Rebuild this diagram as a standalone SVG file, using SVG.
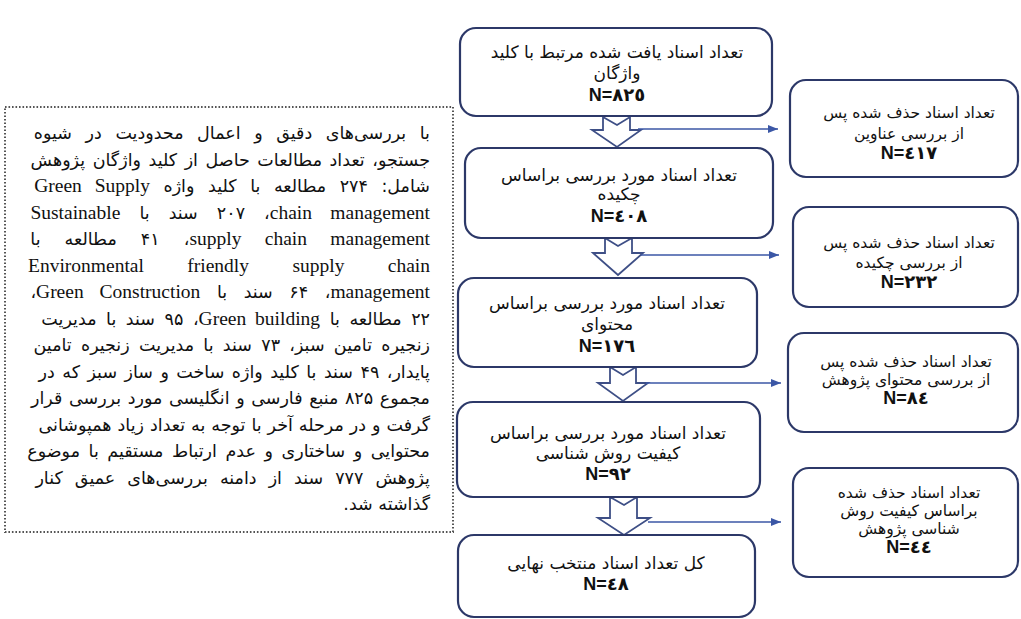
<svg xmlns="http://www.w3.org/2000/svg" width="1021" height="619" viewBox="0 0 1021 619">
<defs>
<marker id="ah" markerWidth="10" markerHeight="8" refX="10" refY="4" orient="auto" markerUnits="userSpaceOnUse">
<path d="M0,0 L10,4 L0,8 Z" fill="#3b57a6"/>
</marker>
</defs>
<style>
.box{fill:#fff;stroke:#2c3868;stroke-width:2.2}
.dot{fill:#fff;stroke:#555;stroke-width:2;stroke-dasharray:1.6 1.9}
.blk{fill:#fff;stroke:#3e4f86;stroke-width:1.8;stroke-linejoin:miter}
.hl{fill:none;stroke:#3b57a6;stroke-width:1.6}
.fa{font-family:"DejaVu Sans",sans-serif;fill:#111}
.c{font-size:17px}
.r{font-size:15.5px}
.p{font-size:17.5px}
.lt{font-family:"Liberation Serif",serif;font-size:19.5px}
.n{font-family:"Liberation Sans","DejaVu Sans",sans-serif;font-weight:bold;fill:#111;font-size:18px}
</style>
<rect width="1021" height="619" fill="#fff"/>

<g id="notes">
<rect class="dot" x="5" y="107" width="448" height="425"/>
<g class="fa p" direction="rtl" text-anchor="start">
<text x="430" y="139" word-spacing="8">با بررسی‌های دقیق و اعمال محدودیت در شیوه</text>
<text x="430" y="165.5" word-spacing="2">جستجو، تعداد مطالعات حاصل از کلید واژگان پژوهش</text>
<text x="430" y="192" word-spacing="8">شامل: ۲۷۴ مطالعه با کلید واژه <tspan class="lt">Green Supply</tspan></text>
<text x="430" y="218.5" word-spacing="13.5"><tspan class="lt">chain management</tspan>&#x200F;، ۲۰۷ سند با <tspan class="lt">Sustainable</tspan></text>
<text x="430" y="245" word-spacing="18.5"><tspan class="lt">supply chain management</tspan>&#x200F;، ۴۱ مطالعه با</text>
<text x="430" y="271.5"><tspan class="lt" word-spacing="38.5">Environmental friendly supply chain</tspan></text>
<text x="430" y="298" word-spacing="11"><tspan class="lt">management</tspan>&#x200F;، ۶۴ سند با <tspan class="lt">Green Construction</tspan>&#x200F;،</text>
<text x="430" y="324.5" word-spacing="4">۲۲ مطالعه با <tspan class="lt">Green building</tspan>&#x200F;، ۹۵ سند با مدیریت</text>
<text x="430" y="351" word-spacing="3.7">زنجیره تامین سبز، ۷۳ سند با مدیریت زنجیره تامین</text>
<text x="430" y="377.5" word-spacing="1.9">پایدار، ۴۹ سند با کلید واژه ساخت و ساز سبز که در</text>
<text x="430" y="404" word-spacing="1">مجموع ۸۲۵ منبع فارسی و انگلیسی مورد بررسی قرار</text>
<text x="430" y="430.5" word-spacing="0.4">گرفت و در مرحله آخر با توجه به تعداد زیاد همپوشانی</text>
<text x="430" y="457" word-spacing="3">محتوایی و ساختاری و عدم ارتباط مستقیم با موضوع</text>
<text x="430" y="483.5" word-spacing="6.5">پژوهش ۷۷۷ سند از دامنه بررسی‌های عمیق کنار</text>
<text x="430" y="510">گذاشته شد.</text>
</g>
</g>

<g id="connectors">
<path class="blk" d="M603,117 L617,125 L630,117 L630,130 L641,130 L617,147 L592,130 L603,130 Z"/>
<path class="blk" d="M605,238 L618,246 L632,238 L632,253 L643,253 L618,275 L593,253 L605,253 Z"/>
<path class="blk" d="M610,367 L623,375 L636,367 L636,383 L648,383 L623,401 L598,383 L610,383 Z"/>
<path class="blk" d="M610,497 L624,505 L637,497 L637,518 L650,518 L624,535 L598,518 L610,518 Z"/>
<line class="hl" x1="638" y1="129" x2="778" y2="129" marker-end="url(#ah)"/>
<line class="hl" x1="641" y1="255" x2="779" y2="255" marker-end="url(#ah)"/>
<line class="hl" x1="646" y1="383" x2="781" y2="383" marker-end="url(#ah)"/>
<line class="hl" x1="648" y1="522" x2="781" y2="522" marker-end="url(#ah)"/>
</g>

<g id="b1">
<rect class="box" x="460" y="28" width="312" height="88" rx="16"/>
<text class="fa c" x="617" y="58" direction="rtl" text-anchor="middle">تعداد اسناد یافت شده مرتبط با کلید</text>
<text class="fa c" x="617" y="79" direction="rtl" text-anchor="middle">واژگان</text>
<text class="n" x="617" y="101" text-anchor="middle">N=٨٢٥</text>
</g>
<g id="b2">
<rect class="box" x="465" y="148" width="308" height="90" rx="16"/>
<text class="fa c" x="619" y="181" direction="rtl" text-anchor="middle">تعداد اسناد مورد بررسی براساس</text>
<text class="fa c" x="619" y="200" direction="rtl" text-anchor="middle">چکیده</text>
<text class="n" x="619" y="222" text-anchor="middle">N=٤٠٨</text>
</g>
<g id="b3">
<rect class="box" x="458" y="278" width="299" height="89" rx="16"/>
<text class="fa c" x="607" y="309" direction="rtl" text-anchor="middle">تعداد اسناد مورد بررسی براساس</text>
<text class="fa c" x="607" y="330" direction="rtl" text-anchor="middle">محتوای</text>
<text class="n" x="607" y="352" text-anchor="middle">N=١٧٦</text>
</g>
<g id="b4">
<rect class="box" x="457" y="402" width="303" height="95" rx="16"/>
<text class="fa c" x="608" y="439" direction="rtl" text-anchor="middle">تعداد اسناد مورد بررسی براساس</text>
<text class="fa c" x="608" y="459" direction="rtl" text-anchor="middle">کیفیت روش شناسی</text>
<text class="n" x="608" y="480" text-anchor="middle">N=٩٢</text>
</g>
<g id="b5">
<rect class="box" x="458" y="535" width="297" height="82" rx="16"/>
<text class="fa c" x="606" y="569" direction="rtl" text-anchor="middle">کل تعداد اسناد منتخب نهایی</text>
<text class="n" x="606" y="590" text-anchor="middle">N=٤٨</text>
</g>

<g id="r1">
<rect class="box" x="790" y="80" width="228" height="97" rx="16"/>
<text class="fa r" x="909" y="118" direction="rtl" text-anchor="middle">تعداد اسناد حذف شده پس</text>
<text class="fa r" x="909" y="139" direction="rtl" text-anchor="middle">از بررسی عناوین</text>
<text class="n" x="909" y="159" text-anchor="middle">N=٤١٧</text>
</g>
<g id="r2">
<rect class="box" x="793" y="207" width="225" height="100" rx="16"/>
<text class="fa r" x="909" y="248" direction="rtl" text-anchor="middle">تعداد اسناد حذف شده پس</text>
<text class="fa r" x="909" y="268" direction="rtl" text-anchor="middle">از بررسی چکیده</text>
<text class="n" x="909" y="288" text-anchor="middle">N=٢٣٢</text>
</g>
<g id="r3">
<rect class="box" x="788" y="333" width="230" height="99" rx="16"/>
<text class="fa r" x="906" y="367" direction="rtl" text-anchor="middle">تعداد اسناد حذف شده پس</text>
<text class="fa r" x="906" y="385" direction="rtl" text-anchor="middle">از بررسی محتوای پژوهش</text>
<text class="n" x="906" y="404" text-anchor="middle">N=٨٤</text>
</g>
<g id="r4">
<rect class="box" x="793" y="468" width="225" height="109" rx="16"/>
<text class="fa r" x="909" y="498" direction="rtl" text-anchor="middle">تعداد اسناد حذف شده</text>
<text class="fa r" x="909" y="516" direction="rtl" text-anchor="middle">براساس کیفیت روش</text>
<text class="fa r" x="909" y="534" direction="rtl" text-anchor="middle">شناسی پژوهش</text>
<text class="n" x="909" y="553" text-anchor="middle">N=٤٤</text>
</g>
</svg>
